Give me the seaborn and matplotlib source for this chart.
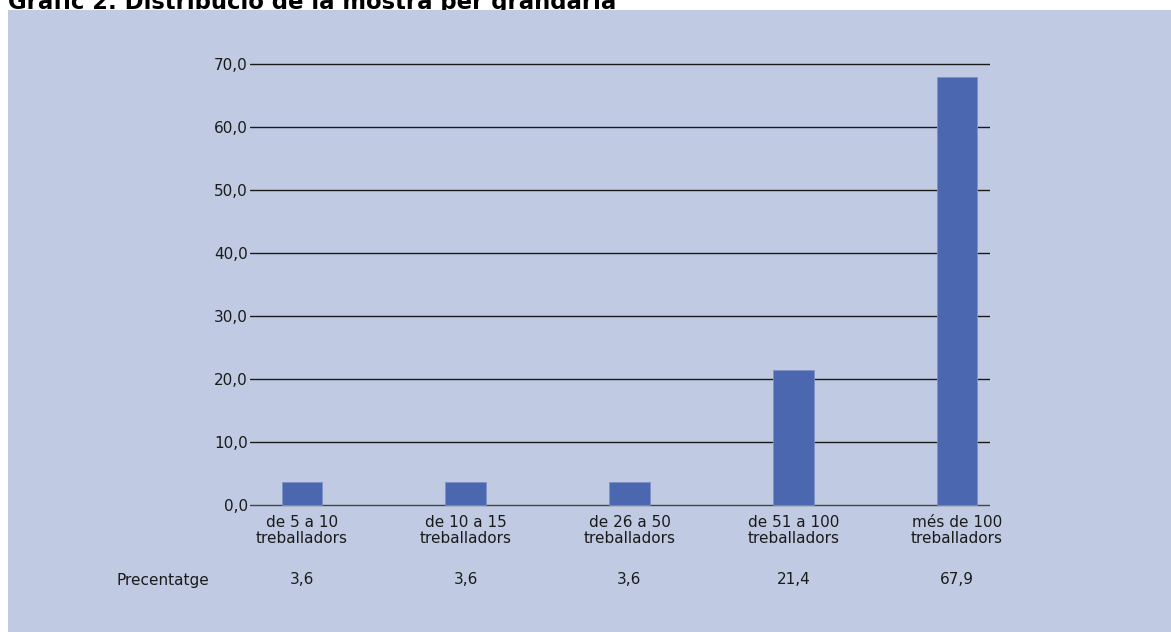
import matplotlib
matplotlib.use("Agg")
import matplotlib.pyplot as plt
import seaborn as sns
from matplotlib.patches import Rectangle
from matplotlib.transforms import blended_transform_factory

# Data
categories = ["de 5 a 10\ntreballadors", "de 10 a 15\ntreballadors",
              "de 26 a 50\ntreballadors", "de 51 a 100\ntreballadors",
              "més de 100\ntreballadors"]
percentages = [3.6, 3.6, 3.6, 21.4, 67.9]
value_labels = ["3,6", "3,6", "3,6", "21,4", "67,9"]
y_ticks = [0, 10, 20, 30, 40, 50, 60, 70]
y_tick_labels = ["0,0", "10,0", "20,0", "30,0", "40,0", "50,0", "60,0", "70,0"]
row_label = "Precentatge"
title = "Gràfic 2. Distribució de la mostra per grandària"

PANEL = "#C0CBE3"
BAR = "#4A67B0"
TEXT = "#1a1a1a"
FS = 11

sns.set_theme(style="white")
plt.rcParams["font.family"] = ["DejaVu Sans"]

W, H = 1171, 632
fig = plt.figure(figsize=(W / 100, H / 100), dpi=100)
fig.patch.set_facecolor("white")

# Blue panel behind the chart (covers the title's descenders)
fig.patches.append(Rectangle((8 / W, 0), 1 - 8 / W, (H - 10) / H,
                             transform=fig.transFigure, facecolor=PANEL,
                             edgecolor="none", zorder=-5))

# Axes placement (pixels)
x0, x1 = 250, 990
ylo, yhi = -0.5, 70.5
px_per_unit = (505 - 64) / 70
y_bottom_px = 505 + 0.5 * px_per_unit
y_top_px = 64 - 0.5 * px_per_unit
ax = fig.add_axes([x0 / W, (H - y_bottom_px) / H, (x1 - x0) / W,
                   (y_bottom_px - y_top_px) / H])
ax.set_facecolor("none")
ax.set_zorder(5)

sns.barplot(x=list(range(len(categories))), y=percentages, width=0.25,
            color=BAR, saturation=1, edgecolor="#7f92c6", linewidth=0.6,
            ax=ax, zorder=3)

spacing = (957 - 302) / 4
ax.set_xlim(-(302 - x0) / spacing, 4 + (x1 - 957) / spacing)
ax.set_ylim(ylo, yhi)

for t in y_ticks:
    ax.axhline(t, color="#1a1a1a" if t else "#444444", linewidth=1.0, zorder=1)

ax.set_yticks(y_ticks)
ax.set_yticklabels(y_tick_labels)
ax.set_xticks(range(len(categories)))
ax.set_xticklabels(categories, linespacing=1.1)
ax.tick_params(axis="y", length=0, pad=1.5, labelsize=FS, labelcolor=TEXT)
ax.tick_params(axis="x", length=0, pad=5, labelsize=FS, labelcolor=TEXT)
for s in ax.spines.values():
    s.set_visible(False)
ax.set_xlabel("")
ax.set_ylabel("")

# Percentage row under the category labels
tr = blended_transform_factory(ax.transData, fig.transFigure)
yrow = (H - 580) / H
for i, lab in enumerate(value_labels):
    ax.text(i, yrow, lab, transform=tr, ha="center", va="center",
            fontsize=FS, color=TEXT, clip_on=False)
fig.text(163 / W, yrow, row_label, ha="center", va="center",
         fontsize=FS, color=TEXT)

# Title at the top edge, partly above the panel
fig.text(8 / W, (H - 9) / H, title, ha="left", va="baseline",
         fontsize=16.4, fontweight="bold", color="black", zorder=-10)

fig.savefig("out.png", dpi=100, facecolor=fig.get_facecolor())
